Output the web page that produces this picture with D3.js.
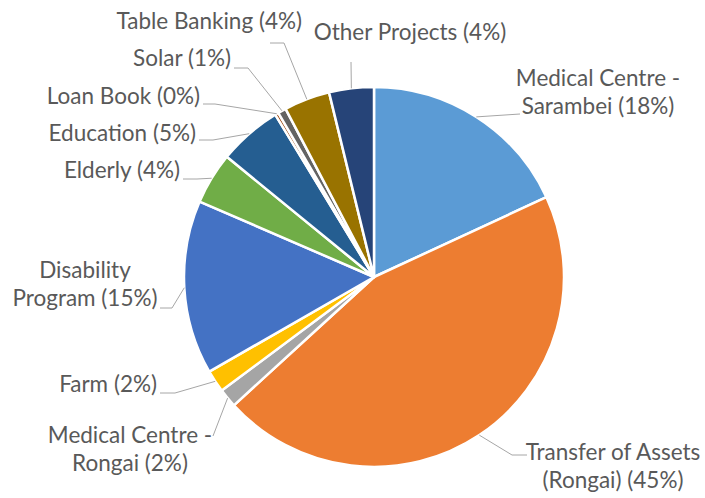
<!DOCTYPE html>
<html>
<head>
<meta charset="utf-8">
<script src="https://cdn.jsdelivr.net/npm/d3@7/dist/d3.min.js"></script>
<style>
  html, body { margin: 0; padding: 0; background: #fff; }
  text { font-family: Lato, "Liberation Sans", sans-serif; }
</style>
</head>
<body>
<svg id="chart" width="705" height="498"></svg>
<script>
// ---- data ----
const categories = [
  "Medical Centre - Sarambei",
  "Transfer of Assets (Rongai)",
  "Medical Centre - Rongai",
  "Farm",
  "Disability Program",
  "Elderly",
  "Education",
  "Loan Book",
  "Solar",
  "Table Banking",
  "Other Projects"
];
const values = [18.1, 45.1, 1.6, 1.9, 14.8, 4.4, 5.4, 0.3, 0.7, 3.9, 3.8];
const labelLines = [
  ["Medical Centre -", "Sarambei"],
  ["Transfer of Assets", "(Rongai)"],
  ["Medical Centre -", "Rongai"],
  ["Farm"],
  ["Disability", "Program"],
  ["Elderly"],
  ["Education"],
  ["Loan Book"],
  ["Solar"],
  ["Table Banking"],
  ["Other Projects"]
];
const colors = ["#5B9BD5", "#ED7D31", "#A5A5A5", "#FFC000", "#4472C4", "#70AD47",
                "#255E91", "#9E480E", "#636363", "#997300", "#264478"];

// ---- layout (label placement, not data) ----
const labelLayout = [
  { x: 598, y: 86,  anchor: "middle", lead: [[520, 114]] },
  { x: 613, y: 460, anchor: "middle", lead: [[512, 455], [527, 455]] },
  { x: 130, y: 443, anchor: "middle", lead: [[213, 436]] },
  { x: 157, y: 392, anchor: "end",    lead: [[175, 393], [160, 393]] },
  { x: 85,  y: 278, anchor: "middle", lead: [[172, 308], [160, 308]] },
  { x: 180, y: 178, anchor: "end",    lead: [[197, 179], [183, 179]] },
  { x: 196, y: 141, anchor: "end",    lead: [[213, 140], [199, 140]] },
  { x: 200, y: 104, anchor: "end",    lead: [[215, 104], [203, 104]] },
  { x: 231, y: 66,  anchor: "end",    lead: [[248, 68], [234, 68]] },
  { x: 302, y: 29,  anchor: "end",    lead: [[284, 43], [270, 43]] },
  { x: 410, y: 40,  anchor: "middle", lead: [[351, 62]] }
];

const cx = 374, cy = 277, R = 190;
const lineH = 28;
const fontSize = 22.5;

const svg = d3.select("#chart");
const g = svg.append("g").attr("transform", `translate(${cx},${cy})`);

const data = categories.map((c, i) => ({ name: c, value: values[i], i }));
const total = d3.sum(values);

const pie = d3.pie().value(d => d.value).sort(null).startAngle(0).endAngle(2 * Math.PI);
const arcs = pie(data);
const arc = d3.arc().innerRadius(0).outerRadius(R);

g.selectAll("path.slice")
  .data(arcs)
  .enter().append("path")
  .attr("class", "slice")
  .attr("d", arc)
  .attr("fill", d => colors[d.data.i])
  .attr("stroke", "#fff")
  .attr("stroke-width", 2.5)
  .attr("stroke-linejoin", "round");

// leader lines
const line = d3.line();
arcs.forEach(a => {
  const mid = (a.startAngle + a.endAngle) / 2;
  const p0 = [cx + R * Math.sin(mid), cy - R * Math.cos(mid)];
  const L = labelLayout[a.data.i];
  svg.append("path")
    .attr("d", line([p0, ...L.lead]))
    .attr("fill", "none")
    .attr("stroke", "#A6A6A6")
    .attr("stroke-width", 1);
});

// labels
arcs.forEach(a => {
  const i = a.data.i;
  const L = labelLayout[i];
  const pct = Math.round(values[i] / total * 100);
  const lines = labelLines[i].slice();
  lines[lines.length - 1] = lines[lines.length - 1] + " (" + pct + "%)";
  const t = svg.append("text")
    .attr("x", L.x).attr("y", L.y)
    .attr("text-anchor", L.anchor)
    .attr("fill", "#595959")
    .attr("font-size", fontSize);
  lines.forEach((s, k) => {
    t.append("tspan").attr("x", L.x).attr("dy", k === 0 ? 0 : lineH).text(s);
  });
});
</script>
</body>
</html>
